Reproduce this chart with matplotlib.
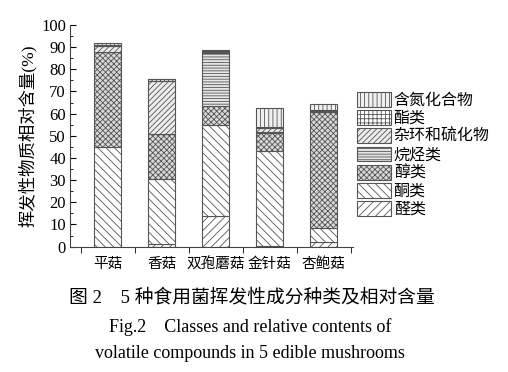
import numpy as np
import matplotlib
matplotlib.use("Agg")
import matplotlib.pyplot as plt
from matplotlib.patches import Patch

plt.rcParams['font.family'] = ['Liberation Serif', 'Noto Sans CJK SC', 'DejaVu Sans']
plt.rcParams['hatch.linewidth'] = 0.6
plt.rcParams['hatch.color'] = '#707070'

###Data
mushrooms = ['平菇', '香菇', '双孢蘑菇', '金针菇', '杏鲍菇']
classes = ['醛类', '酮类', '醇类', '烷烃类', '杂环和硫化物', '酯类', '含氮化合物']  # bottom to top
aldehydes = [0.0, 1.0, 13.8, 0.5, 2.3]
ketones = [45.0, 29.5, 41.0, 42.5, 6.0]
alcohols = [43.0, 20.3, 8.6, 8.3, 52.5]
alkanes = [0.0, 0.0, 24.1, 0.4, 0.0]
heterocycles = [2.5, 24.0, 0.5, 1.8, 0.3]
esters = [0.6, 0.6, 0.4, 0.3, 0.6]
nitrogen = [0.7, 0.0, 0.3, 8.6, 2.7]

series = [aldehydes, ketones, alcohols, alkanes, heterocycles, esters, nitrogen]
hatches = ['////', '\\\\\\\\', 'xxxxxx', '------', '//////', '++++', '||||']
faces = ['white', 'white', '#d8d8d8', '#e6e6e6', '#ececec', 'white', '#f0f0f0']

###Plot
fig = plt.figure(figsize=(5.08, 3.72), dpi=100)
ax = fig.add_axes([0.138, 0.337, 0.557, 0.596])

x = np.arange(len(mushrooms))
bottom = np.zeros(len(mushrooms))
handles = []
for vals, h, fc, name in zip(series, hatches, faces, classes):
    ax.bar(x, vals, width=0.5, bottom=bottom, color=fc, hatch=h,
           edgecolor='#555555', linewidth=0.8)
    bottom += np.array(vals)
    handles.append(Patch(facecolor=fc, hatch=h, edgecolor='#555555', linewidth=0.8, label=name))

ax.set_xlim(-0.7, 4.54)
ax.set_ylim(0, 100)
ax.set_yticks(np.arange(0, 101, 10))
ax.set_yticks(np.arange(0, 101, 5), minor=True)
ax.tick_params(axis='y', direction='in', labelsize=12, length=4, pad=3)
ax.tick_params(axis='y', which='minor', direction='in', length=2)
ax.set_xticks(x)
ax.set_xticklabels(mushrooms, fontsize=10.5)
ax.set_xticks(np.arange(-0.5, 4.6, 1), minor=True)
ax.tick_params(axis='x', which='major', length=0, pad=8)
ax.tick_params(axis='x', which='minor', direction='out', length=4)
for s in ['top', 'right']:
    ax.spines[s].set_visible(False)
ax.spines['left'].set_color('#444444')
ax.spines['bottom'].set_color('#444444')
ax.set_ylabel('挥发性物质相对含量(%)', fontsize=12.5, labelpad=3)

leg = ax.legend(handles[::-1], classes[::-1], loc='upper left', bbox_to_anchor=(0.98, 0.74),
                frameon=False, fontsize=11.5, handlelength=2.1, handleheight=1.05,
                handletextpad=0.2, labelspacing=0.08, borderaxespad=0.2)

fig.text(0.495, 0.2, '图 2　5 种食用菌挥发性成分种类及相对含量', ha='center', va='center', fontsize=13.5)
fig.text(0.492, 0.122, 'Fig.2    Classes and relative contents of', ha='center', va='center', fontsize=13)
fig.text(0.492, 0.05, 'volatile compounds in 5 edible mushrooms', ha='center', va='center', fontsize=13)

fig.savefig('out.png', dpi=100)
